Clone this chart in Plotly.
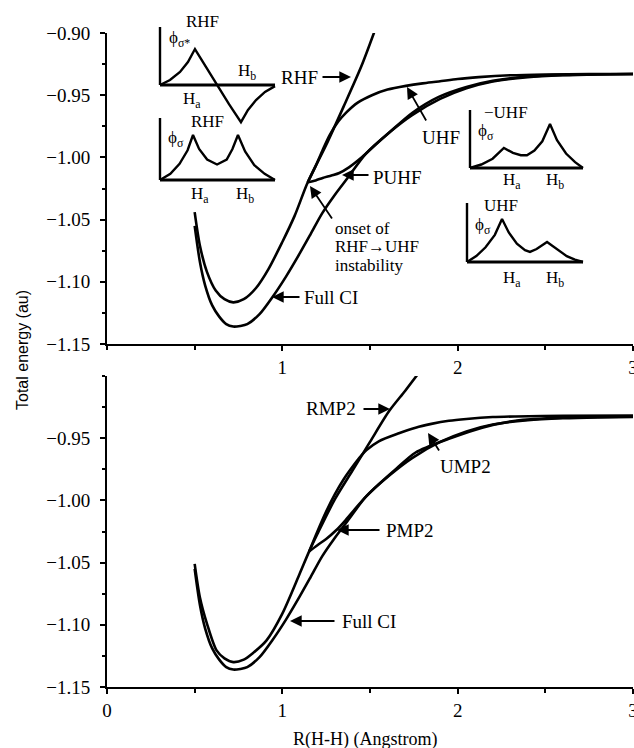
import plotly.graph_objects as go

# ---------------- data ----------------
# Top panel: Hartree-Fock family vs full CI
R_rhf = [0.50, 0.53, 0.57, 0.62, 0.67, 0.72, 0.78, 0.85, 0.92, 1.00, 1.07, 1.145, 1.25, 1.35, 1.45, 1.525]
E_rhf = [-1.044, -1.071, -1.092, -1.107, -1.114, -1.1165, -1.114, -1.105, -1.090, -1.068, -1.047, -1.020, -0.990, -0.959, -0.927, -0.899]

R_uhf = [1.145, 1.19, 1.23, 1.27, 1.32, 1.364, 1.43, 1.511, 1.60, 1.705, 1.80, 1.892, 2.0, 2.12, 2.3, 2.5, 2.75, 3.0]
E_uhf = [-1.020, -1.007, -0.994, -0.982, -0.971, -0.964, -0.956, -0.950, -0.9455, -0.9425, -0.9405, -0.939, -0.937, -0.9355, -0.934, -0.9333, -0.933, -0.933]

R_puhf = [1.145, 1.19, 1.23, 1.28, 1.325, 1.38, 1.455, 1.53, 1.61, 1.74, 1.892, 2.05, 2.2, 2.4, 2.6, 3.0]
E_puhf = [-1.020, -1.0185, -1.0165, -1.0145, -1.0125, -1.008, -0.9997, -0.990, -0.980, -0.9643, -0.9514, -0.9434, -0.9385, -0.935, -0.9337, -0.933]

R_fci = [0.50, 0.53, 0.56, 0.60, 0.64, 0.68, 0.72, 0.76, 0.80, 0.87, 0.945, 1.02, 1.10, 1.16, 1.227, 1.30, 1.37, 1.477, 1.61, 1.74, 1.90, 2.05, 2.20, 2.40, 2.60, 2.80, 3.00]
E_fci = [-1.055, -1.084, -1.103, -1.119, -1.128, -1.134, -1.136, -1.1355, -1.134, -1.126, -1.112, -1.096, -1.077, -1.062, -1.045, -1.030, -1.017, -0.997, -0.980, -0.966, -0.953, -0.9445, -0.939, -0.9355, -0.934, -0.9333, -0.933]

# Bottom panel: MP2 family vs full CI
R_rmp2 = [0.50, 0.53, 0.57, 0.625, 0.67, 0.72, 0.78, 0.83, 0.91, 1.0, 1.1, 1.153, 1.2, 1.3, 1.4, 1.5, 1.61, 1.70, 1.77]
E_rmp2 = [-1.051, -1.078, -1.099, -1.1206, -1.127, -1.130, -1.128, -1.123, -1.1125, -1.091, -1.0586, -1.041, -1.027, -0.999, -0.976, -0.953, -0.928, -0.912, -0.899]

R_ump2 = [1.153, 1.2, 1.25, 1.3, 1.35, 1.4, 1.45, 1.48, 1.55, 1.665, 1.76, 1.85, 1.95, 2.05, 2.2, 2.33, 2.6, 3.0]
E_ump2 = [-1.041, -1.025, -1.009, -0.995, -0.983, -0.973, -0.964, -0.9596, -0.9525, -0.946, -0.9415, -0.9385, -0.936, -0.9345, -0.933, -0.9325, -0.932, -0.9318]

R_pmp2 = [1.153, 1.2, 1.25, 1.307, 1.36, 1.42, 1.477, 1.55, 1.65, 1.76, 1.95, 2.14, 2.33, 2.6, 3.0]
E_pmp2 = [-1.041, -1.036, -1.031, -1.024, -1.016, -1.006, -0.997, -0.987, -0.9745, -0.9615, -0.9505, -0.9415, -0.936, -0.9335, -0.9325]

# Axis ticks
x_ticks_top = [1, 2, 3]
x_ticks_bottom = [0, 1, 2, 3]
y_ticks_top = [-1.15, -1.10, -1.05, -1.00, -0.95, -0.90]
y_ticks_bottom = [-1.15, -1.10, -1.05, -1.00, -0.95]

# Schematic orbital insets (position along H-H axis, amplitude)
ins1_x = [0, 0.087, 0.174, 0.243, 0.304, 0.40, 0.496, 0.60, 0.704, 0.765, 0.835, 0.913, 1.0]
ins1_y = [0, 0.086, 0.224, 0.397, 0.62, 0.31, 0.0, -0.33, -0.64, -0.43, -0.26, -0.12, -0.02]
ins2_x = [0, 0.09, 0.17, 0.24, 0.287, 0.34, 0.41, 0.496, 0.58, 0.63, 0.678, 0.74, 0.82, 0.91, 1.0]
ins2_y = [0, 0.10, 0.26, 0.48, 0.726, 0.50, 0.33, 0.25, 0.33, 0.50, 0.726, 0.46, 0.24, 0.10, 0.0]
ins3_x = [0, 0.10, 0.20, 0.30, 0.38, 0.45, 0.504, 0.57, 0.64, 0.708, 0.77, 0.85, 0.93, 1.0]
ins3_y = [0, 0.06, 0.16, 0.345, 0.26, 0.22, 0.22, 0.30, 0.46, 0.76, 0.48, 0.25, 0.10, 0.0]
ins4_x = [0, 0.08, 0.16, 0.24, 0.302, 0.36, 0.43, 0.50, 0.543, 0.60, 0.69, 0.77, 0.86, 0.93, 1.0]
ins4_y = [0, 0.10, 0.25, 0.46, 0.73, 0.50, 0.31, 0.20, 0.17, 0.22, 0.34, 0.22, 0.10, 0.04, 0.0]

# ---------------- layout geometry ----------------
W, H = 634, 748
ML, MR, MT, MB = 107, 1, 10, 61
PW = W - ML - MR
PH = H - MT - MB
Y0 = H - MB  # pixel row of paper y=0


def pxp(px, py):
    return (px - ML) / PW, (Y0 - py) / PH


top_dom = [(Y0 - 344) / PH, (Y0 - 33) / PH]
bot_dom = [0, (Y0 - 376) / PH]

SERIF = "Liberation Serif, Times New Roman, DejaVu Serif, serif"
LW = 2.6

fig = go.Figure()


def curve(x, y, xa, ya):
    fig.add_trace(go.Scatter(x=x, y=y, mode="lines", xaxis=xa, yaxis=ya,
                             line=dict(color="black", width=LW, shape="spline", smoothing=0.8),
                             showlegend=False, hoverinfo="skip"))


curve(R_rhf, E_rhf, "x", "y")
curve(R_uhf, E_uhf, "x", "y")
curve(R_puhf, E_puhf, "x", "y")
curve(R_fci, E_fci, "x", "y")
curve(R_rmp2, E_rmp2, "x2", "y2")
curve(R_ump2, E_ump2, "x2", "y2")
curve(R_pmp2, E_pmp2, "x2", "y2")
curve(R_fci, E_fci, "x2", "y2")

# insets: (xs, ys, left px, right px, baseline px, top px, lowest y)
insets = [
    (ins1_x, ins1_y, 160, 275, 85, 27, -0.75),
    (ins2_x, ins2_y, 160, 275, 180, 118, -0.1),
    (ins3_x, ins3_y, 470, 583, 168, 110, -0.1),
    (ins4_x, ins4_y, 467, 583, 262, 203, -0.1),
]
shapes = []
layout_axes = {}
for i, (xs, ys, xl, xr, yb, yt, ylo) in enumerate(insets):
    n = i + 3
    sx = xr - xl
    sy = yb - yt
    xr0, xr1 = -0.1, 1.1
    yr0, yr1 = ylo, 1.1
    dx0, dy0 = pxp(xl + xr0 * sx, yb - yr0 * sy)
    dx1, dy1 = pxp(xl + xr1 * sx, yb - yr1 * sy)
    layout_axes[f"xaxis{n}"] = dict(domain=[dx0, dx1], range=[xr0, xr1], visible=False,
                                    anchor=f"y{n}", fixedrange=True)
    layout_axes[f"yaxis{n}"] = dict(domain=[dy0, dy1], range=[yr0, yr1], visible=False,
                                    anchor=f"x{n}", fixedrange=True)
    fig.add_trace(go.Scatter(x=xs, y=ys, mode="lines", xaxis=f"x{n}", yaxis=f"y{n}",
                             line=dict(color="black", width=2.4), showlegend=False,
                             hoverinfo="skip", cliponaxis=False))
    shapes.append(dict(type="line", xref=f"x{n}", yref=f"y{n}", x0=0, x1=1, y0=0, y1=0,
                       line=dict(color="black", width=2.8)))
    shapes.append(dict(type="line", xref=f"x{n}", yref=f"y{n}", x0=0, x1=0, y0=0, y1=1,
                       line=dict(color="black", width=2.4)))

annotations = []


def label(text, px, py, xanchor="center", size=19, family=SERIF):
    x, y = pxp(px, py)
    annotations.append(dict(text=text, x=x, y=y, xref="paper", yref="paper",
                            xanchor=xanchor, yanchor="middle", showarrow=False,
                            font=dict(family=family, size=size, color="black")))


def arrow(tipx, tipy, tailx, taily):
    x, y = pxp(tipx, tipy)
    annotations.append(dict(text="", x=x, y=y, xref="paper", yref="paper", showarrow=True,
                            ax=tailx - tipx, ay=taily - tipy, axref="pixel", ayref="pixel",
                            arrowhead=2, arrowsize=1.3, arrowwidth=1.8, arrowcolor="black",
                            standoff=0, startstandoff=0))


# top panel labels
label("RHF", 299, 77)
arrow(351, 77, 321, 77)
label("UHF", 441, 137)
arrow(407, 87, 427, 122)
label("PUHF", 397, 177)
arrow(342, 175, 370, 175)
label("onset of", 333, 229, xanchor="left", size=17)
label("RHF\u2192UHF", 333, 247, xanchor="left", size=17)
label("instability", 333, 265, xanchor="left", size=17)
arrow(310, 186, 333, 220)
label("Full CI", 302, 297, xanchor="left")
arrow(272, 297, 301, 297)

# inset labels
IS = 17
label("RHF", 202, 21, size=IS)
label("\u03d5<sub>\u03c3*</sub>", 167, 39, xanchor="left", size=IS)
label("H<sub>a</sub>", 192, 100, size=IS)
label("H<sub>b</sub>", 247, 72, size=IS)
label("RHF", 207, 121, size=IS)
label("\u03d5<sub>\u03c3</sub>", 166, 139, xanchor="left", size=IS)
label("H<sub>a</sub>", 200, 195, size=IS)
label("H<sub>b</sub>", 245, 195, size=IS)
label("\u2212UHF", 506, 112, size=IS)
label("\u03d5<sub>\u03c3</sub>", 476, 132, xanchor="left", size=IS)
label("H<sub>a</sub>", 512, 181, size=IS)
label("H<sub>b</sub>", 555, 181, size=IS)
label("UHF", 501, 205, size=IS)
label("\u03d5<sub>\u03c3</sub>", 473, 226, xanchor="left", size=IS)
label("H<sub>a</sub>", 512, 279, size=IS)
label("H<sub>b</sub>", 555, 279, size=IS)

# bottom panel labels
label("RMP2", 331, 409)
arrow(390, 409, 362, 409)
label("UMP2", 465, 467)
arrow(428, 433, 440, 452)
label("PMP2", 410, 530)
arrow(337, 530, 381, 530)
label("Full CI", 340, 621, xanchor="left")
arrow(290, 621, 336, 621)

# axis titles
xt, yt_ = pxp(22, 350)
annotations.append(dict(text="Total energy (au)", x=xt, y=yt_, xref="paper", yref="paper",
                        textangle=-90, showarrow=False, xanchor="center", yanchor="middle",
                        font=dict(family="Liberation Sans, Arial, sans-serif", size=16,
                                  color="black")))
label("R(H-H) (Angstrom)", 365, 739, size=18)

tickfont = dict(family=SERIF, size=19, color="black")
common_x = dict(range=[0, 3], showline=True, linewidth=2, linecolor="black", ticks="outside",
                ticklen=5, tickwidth=1.5, tickcolor="black", showgrid=False, zeroline=False,
                tickfont=tickfont, tickmode="array", ticklabeloverflow="allow",
                minor=dict(dtick=0.5, tick0=0, ticks="outside", ticklen=4, tickwidth=1.5,
                           tickcolor="black", showgrid=False))
common_y = dict(range=[-1.15, -0.90], showline=True, linewidth=2, linecolor="black",
                ticks="outside", ticklen=5, tickwidth=1.5, tickcolor="black", showgrid=False,
                zeroline=False, tickfont=tickfont, tickmode="array", tickformat=".2f",
                ticklabelstandoff=6,
                minor=dict(dtick=0.025, tick0=-1.15, ticks="outside", ticklen=3, tickwidth=1.5,
                           tickcolor="black", showgrid=False))

fig.update_layout(
    width=W, height=H,
    margin=dict(l=ML, r=MR, t=MT, b=MB, autoexpand=False),
    paper_bgcolor="white", plot_bgcolor="rgba(0,0,0,0)",
    showlegend=False,
    xaxis=dict(common_x, domain=[0, 1], anchor="y", tickvals=x_ticks_top,
               ticktext=[str(v) for v in x_ticks_top]),
    yaxis=dict(common_y, domain=top_dom, anchor="x", tickvals=y_ticks_top),
    xaxis2=dict(common_x, domain=[0, 1], anchor="y2", tickvals=x_ticks_bottom,
                ticktext=[str(v) for v in x_ticks_bottom]),
    yaxis2=dict(common_y, domain=bot_dom, anchor="x2", tickvals=y_ticks_bottom),
    shapes=shapes,
    annotations=annotations,
    **layout_axes,
)

fig.write_html("out.html", config={"displayModeBar": False},
               post_script="document.body.style.margin='0';document.body.style.overflow='hidden';")
